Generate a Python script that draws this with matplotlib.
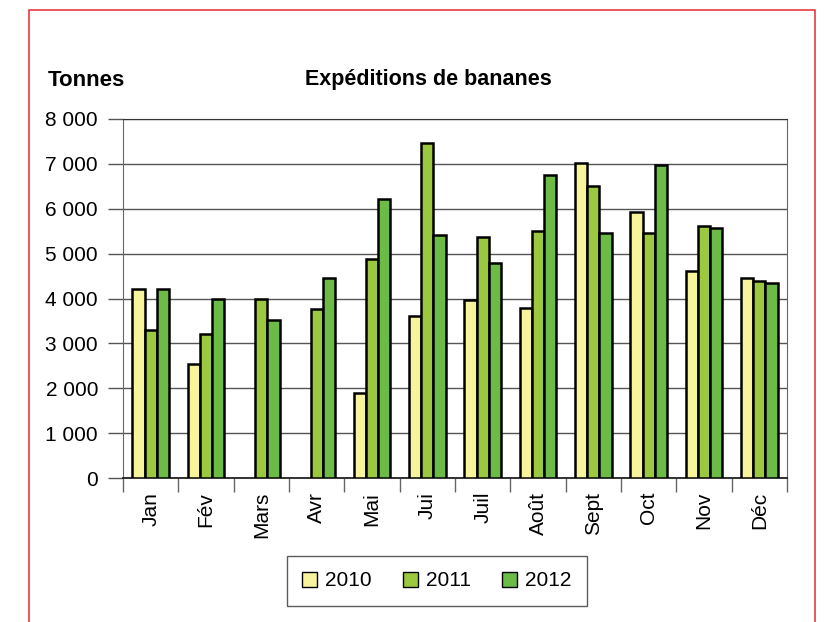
import numpy as np
import matplotlib
matplotlib.use("Agg")
import matplotlib.pyplot as plt
from matplotlib.patches import Rectangle, Patch
from matplotlib.ticker import FuncFormatter, MultipleLocator

months = ["Jan", "Fév", "Mars", "Avr", "Mai", "Jui", "Juil", "Août", "Sept", "Oct", "Nov", "Déc"]
years = ["2010", "2011", "2012"]
v2010 = [4210, 2530, np.nan, np.nan, 1890, 3620, 3970, 3780, 7030, 5920, 4620, 4450]
v2011 = [3290, 3210, 3990, 3770, 4880, 7460, 5370, 5500, 6500, 5450, 5620, 4390]
v2012 = [4220, 4000, 3520, 4460, 6220, 5420, 4800, 6750, 5470, 6970, 5580, 4340]
colors = ["#F8F49C", "#9BC83E", "#6CBB46"]

plt.rcParams["font.family"] = ["Liberation Sans", "DejaVu Sans"]

fig = plt.figure(figsize=(8.27, 6.22), dpi=100)
ax = fig.add_axes([123/827, 1-478/622, (787-123)/827, (478-119)/622])

x = np.arange(len(months))
w = 0.222
for i, (vals, c) in enumerate(zip([v2010, v2011, v2012], colors)):
    ax.bar(x + (i-1)*w, vals, width=w, color=c, edgecolor="black", linewidth=1.8, zorder=3)

ax.set_xlim(-0.5, len(months)-0.5)
ax.set_ylim(0, 8000)
ax.yaxis.set_major_locator(MultipleLocator(1000))
ax.yaxis.set_major_formatter(FuncFormatter(lambda v, p: f"{int(v):,}".replace(",", " ")))
ax.grid(axis="y", color="#555555", linewidth=1.0, zorder=0)
ax.set_axisbelow(True)

ax.set_xticks(np.arange(len(months)+1) - 0.5)
ax.set_xticklabels([])
ax.set_xticks(x, minor=True)
ax.set_xticklabels(months, minor=True, rotation=90, fontsize=15)
ax.tick_params(axis="x", which="minor", length=0, pad=10)
ax.tick_params(axis="x", which="major", length=10, width=1, color="#666666")
ax.tick_params(axis="y", length=11, width=1, color="#555555", labelsize=15, pad=7)

for s in ["left", "right"]:
    ax.spines[s].set_color("#666666")
ax.spines["top"].set_color("#333333")
ax.spines["bottom"].set_color("#222222")
ax.spines["bottom"].set_linewidth(1.3)

fig.text(428/827, 1-79/622, "Expéditions de bananes", ha="center", va="center",
         fontsize=15.5, fontweight="bold")
fig.text(48/827, 1-81/622, "Tonnes", ha="left", va="center", fontsize=16, fontweight="bold")

handles = [Patch(facecolor=c, edgecolor="black", linewidth=1.0) for c in colors]
leg = fig.legend(handles, years, loc="center", bbox_to_anchor=(437/827, 1-581/622),
                 ncol=3, fontsize=15, frameon=True, fancybox=False,
                 handlelength=0.7, handleheight=0.7, handletextpad=0.4, columnspacing=1.5,
                 borderpad=0.75)
leg.get_frame().set_edgecolor("#333333")
leg.get_frame().set_linewidth(1.0)

fig.patches.append(Rectangle((29/827, -0.1), (815-29)/827, 1.1 - 10/622,
                             transform=fig.transFigure, fill=False,
                             edgecolor="#E83A40", linewidth=1.2))

fig.savefig("out.png", dpi=100)
